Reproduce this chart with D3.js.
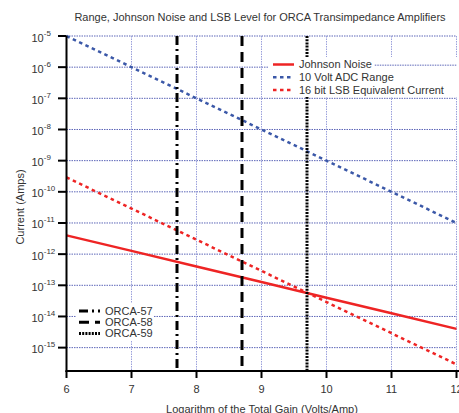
<!DOCTYPE html>
<html>
<head>
<meta charset="utf-8">
<script src="https://cdn.jsdelivr.net/npm/d3@7"></script>
<style>
body { margin: 0; background: #fff; }
text { font-family: "Liberation Sans", Arial, sans-serif; fill: #333; }
</style>
</head>
<body>
<div id="chart"></div>
<script>
var width = 459;
var height = 413;

// data
var gainLog = [6, 7, 8, 9, 10, 11, 12];
var johnsonNoise = [4.0e-12, 1.27e-12, 4.0e-13, 1.27e-13, 4.0e-14, 1.27e-14, 4.0e-15];
var adcRange = [1e-5, 1e-6, 1e-7, 1e-8, 1e-9, 1e-10, 1e-11];
var lsbCurrent = [2.9e-10, 2.9e-11, 2.9e-12, 2.9e-13, 2.9e-14, 2.9e-15, 2.9e-16];
var orcaNames = ["ORCA-57", "ORCA-58", "ORCA-59"];
var orcaGain = [7.7, 8.7, 9.7];
var xTicks = [6, 7, 8, 9, 10, 11, 12];
var yExps = [-5, -6, -7, -8, -9, -10, -11, -12, -13, -14, -15];

// plot box (note: "top" is taken by window.top)
var pLeft = 66.5, pRight = 456.5, pTop = 36, pBottom = 371;

var x = d3.scaleLinear().domain([6, 12]).range([pLeft, pRight]);
var y = d3.scaleLog().domain([Math.pow(10, -15.75), 1e-5]).range([pBottom, pTop]);

var svg = d3.select("#chart").append("svg")
    .attr("width", width)
    .attr("height", height);

function drawGrid(g) {
    g.selectAll("line.h").data(yExps).enter().append("line")
        .attr("x1", pLeft).attr("x2", pRight)
        .attr("y1", function(d) { return y(Math.pow(10, d)); })
        .attr("y2", function(d) { return y(Math.pow(10, d)); })
        .attr("stroke", "#5d66b8").attr("stroke-width", 1)
        .attr("stroke-dasharray", "1.5,1");
    g.selectAll("line.v").data(xTicks.slice(1)).enter().append("line")
        .attr("x1", function(d) { return x(d); })
        .attr("x2", function(d) { return x(d); })
        .attr("y1", pTop).attr("y2", pBottom)
        .attr("stroke", "#9aa0dc").attr("stroke-width", 1)
        .attr("stroke-dasharray", "1.5,1");
}

// title + axis titles
svg.append("text").attr("x", 260).attr("y", 21)
    .attr("text-anchor", "middle").attr("font-size", "11px")
    .text("Range, Johnson Noise and LSB Level for ORCA Transimpedance Amplifiers");
svg.append("text").attr("x", 262).attr("y", 412.5)
    .attr("text-anchor", "middle").attr("font-size", "11px")
    .text("Logarithm of the Total Gain (Volts/Amp)");
svg.append("text")
    .attr("transform", "translate(23.5,207) rotate(-90)")
    .attr("text-anchor", "middle").attr("font-size", "11px")
    .text("Current (Amps)");

var plot = svg.append("g");
drawGrid(plot.append("g"));

var line = d3.line()
    .x(function(d) { return x(d[0]); })
    .y(function(d) { return y(d[1]); });

function series(vals) {
    return gainLog.map(function(g, i) { return [g, vals[i]]; });
}

var styles = [
    {name: "Johnson Noise", vals: johnsonNoise, color: "#ee2424", dash: null},
    {name: "10 Volt ADC Range", vals: adcRange, color: "#3b58a8", dash: "3.5,3.5"},
    {name: "16 bit LSB Equivalent Current", vals: lsbCurrent, color: "#ee2424", dash: "3.5,3.5"}
];

styles.forEach(function(s) {
    plot.append("path")
        .datum(series(s.vals))
        .attr("d", line)
        .attr("fill", "none")
        .attr("stroke", s.color)
        .attr("stroke-width", 2.5)
        .attr("stroke-dasharray", s.dash);
});

var orcaDash = ["9,4,2,4", "10,6", "2,1.2"];
orcaGain.forEach(function(g, i) {
    plot.append("line")
        .attr("x1", x(g)).attr("x2", x(g))
        .attr("y1", pTop).attr("y2", pBottom)
        .attr("stroke", "#000")
        .attr("stroke-width", 3)
        .attr("stroke-dasharray", orcaDash[i]);
});

// legend top right
var lg = svg.append("g");
lg.append("rect").attr("x", 269).attr("y", 57).attr("width", 190).attr("height", 40)
    .attr("fill", "#fff");
var firstTextEnd = 0;
styles.forEach(function(s, i) {
    var ly = 64.5 + i * 12.8;
    lg.append("line").attr("x1", 273).attr("x2", 294)
        .attr("y1", ly).attr("y2", ly)
        .attr("stroke", s.color).attr("stroke-width", 2.5)
        .attr("stroke-dasharray", s.dash);
    var t = lg.append("text").attr("x", 299).attr("y", ly + 3.5)
        .attr("font-size", "11px").text(s.name);
    if (i == 0) firstTextEnd = 299 + t.node().getComputedTextLength();
});
// grid line at 10^-6 shows through after first legend entry
lg.append("line").attr("x1", firstTextEnd + 3).attr("x2", pRight)
    .attr("y1", y(1e-6) - 2).attr("y2", y(1e-6) - 2)
    .attr("stroke", "#5d66b8").attr("stroke-width", 1)
    .attr("stroke-dasharray", "1.5,1");

// legend lower left
var lg2 = svg.append("g");
lg2.append("rect").attr("x", 76).attr("y", 303).attr("width", 78).attr("height", 38)
    .attr("fill", "#fff");
orcaNames.forEach(function(n, i) {
    var ly = 311 + i * 11.3;
    lg2.append("line").attr("x1", 79).attr("x2", 100)
        .attr("y1", ly).attr("y2", ly)
        .attr("stroke", "#000").attr("stroke-width", 3)
        .attr("stroke-dasharray", orcaDash[i]);
    lg2.append("text").attr("x", 105).attr("y", ly + 3.5)
        .attr("font-size", "11px").text(n);
});

// axes
var ax = svg.append("g");
ax.append("line").attr("x1", pLeft).attr("x2", pLeft).attr("y1", pTop).attr("y2", pBottom + 1)
    .attr("stroke", "#000").attr("stroke-width", 2);
ax.append("line").attr("x1", pLeft - 1).attr("x2", width).attr("y1", pBottom).attr("y2", pBottom)
    .attr("stroke", "#000").attr("stroke-width", 2);

yExps.forEach(function(e) {
    var yy = y(Math.pow(10, e));
    ax.append("line").attr("x1", pLeft - 8.5).attr("x2", pLeft)
        .attr("y1", yy).attr("y2", yy)
        .attr("stroke", "#000").attr("stroke-width", 2);
    var t = ax.append("text").attr("x", 31.5).attr("y", yy + 5.5)
        .attr("font-size", "11px").text("10");
    t.append("tspan").attr("dy", -6).attr("font-size", "8px").text(String(e));
});

xTicks.forEach(function(v) {
    ax.append("line").attr("x1", x(v)).attr("x2", x(v))
        .attr("y1", pBottom).attr("y2", pBottom + 7)
        .attr("stroke", "#000").attr("stroke-width", 2);
    ax.append("text").attr("x", x(v)).attr("y", 393)
        .attr("text-anchor", "middle").attr("font-size", "11px")
        .text(v);
});
</script>
</body>
</html>
